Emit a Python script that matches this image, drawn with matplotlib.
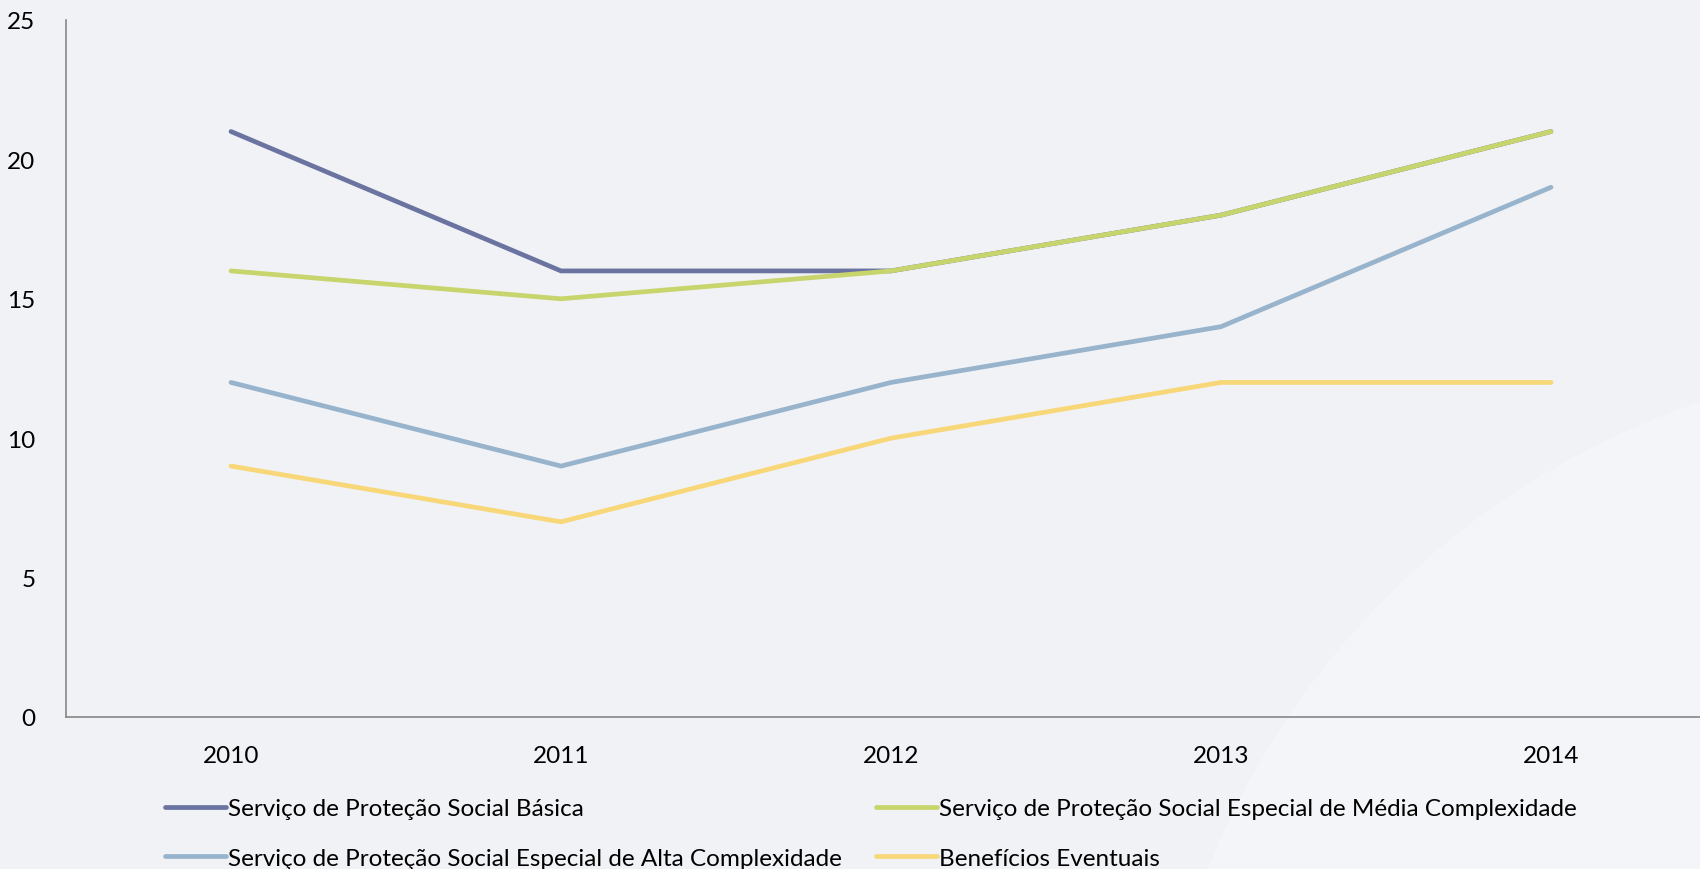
import matplotlib
matplotlib.use('Agg')
import matplotlib.pyplot as plt
from matplotlib.patches import Ellipse

# Dados
anos = ['2010', '2011', '2012', '2013', '2014']
basica = [21, 16, 16, 18, 21]
media = [16, 15, 16, 18, 21]
alta = [12, 9, 12, 14, 19]
beneficios = [9, 7, 10, 12, 12]

nomes = ['Serviço de Proteção Social Básica',
         'Serviço de Proteção Social Especial de Média Complexidade',
         'Serviço de Proteção Social Especial de Alta Complexidade',
         'Benefícios Eventuais']
cores = ['#6b74a0', '#c8d46c', '#98b4cc', '#f8d778']

plt.rcParams['font.family'] = ['Lato', 'DejaVu Sans']

fig = plt.figure(figsize=(17, 8.7), dpi=100, facecolor='#f1f2f6')

# fundo: area mais clara no canto inferior direito
fig.patches.append(Ellipse((1960 / 1700, 1 - 1170 / 870), 1620 / 1700, 1620 / 870,
                           transform=fig.transFigure, facecolor='#f4f5f8',
                           edgecolor='none', zorder=-5))

ax = fig.add_axes([66 / 1700, 1 - 718 / 870, 1650 / 1700, 697 / 870])
ax.set_facecolor('none')
ax.set_zorder(1)

x = range(len(anos))
series = [basica, media, alta, beneficios]
linhas = []
for valores, nome, cor in zip(series, nomes, cores):
    l, = ax.plot(x, valores, color=cor, lw=3.4, solid_capstyle='round', label=nome)
    linhas.append(l)

ax.set_xlim(-0.5, 4.5)
ax.set_ylim(0, 25)
ax.set_yticks([0, 5, 10, 15, 20, 25])
ax.set_xticks(list(x))
ax.set_xticklabels(anos)
ax.tick_params(axis='both', length=0, labelsize=17.5, colors='black')
ax.tick_params(axis='x', pad=20)
ax.tick_params(axis='y', pad=22)
for s in ['top', 'right']:
    ax.spines[s].set_visible(False)
for s in ['left', 'bottom']:
    ax.spines[s].set_color('#868686')
    ax.spines[s].set_linewidth(1.2)

# legenda em duas colunas (ordem por coluna)
ordem = [0, 2, 1, 3]
leg = fig.legend(handles=[linhas[i] for i in ordem], labels=[nomes[i] for i in ordem],
                 ncol=2, loc='upper left', bbox_to_anchor=(153 / 1700, 1 - 787 / 870),
                 frameon=False, borderpad=0, fontsize=17.5, handlelength=2.5,
                 handletextpad=0.1, columnspacing=1.4, labelspacing=1.17)
leg.set_zorder(2)

fig.savefig('out.png', dpi=100, facecolor=fig.get_facecolor())
